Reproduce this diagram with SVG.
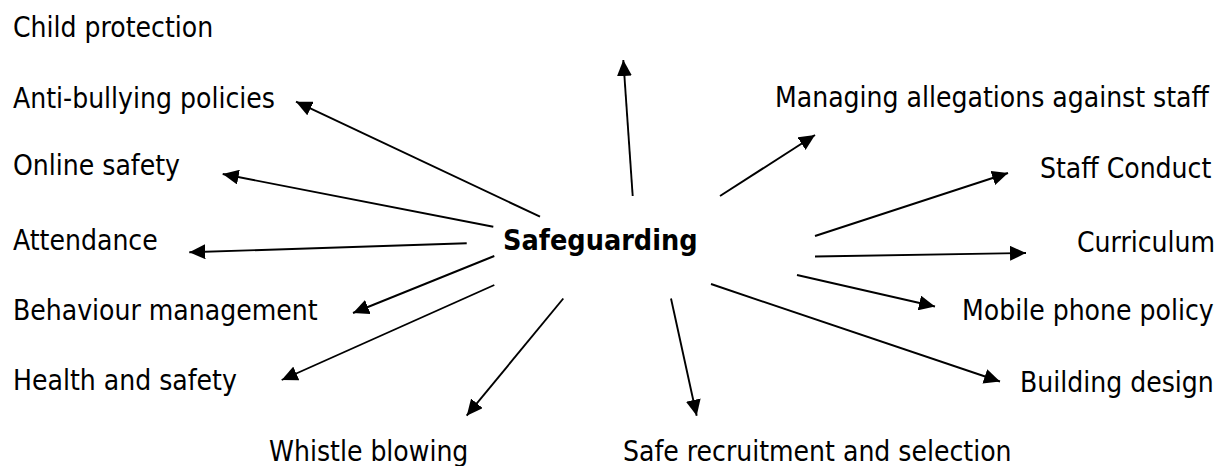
<svg xmlns="http://www.w3.org/2000/svg" width="1220" height="466" viewBox="0 0 1220 466">
<style>
text{font-family:"DejaVu Sans Condensed","DejaVu Sans",sans-serif;font-stretch:condensed;font-size:28px;fill:#000}
.hub{font-weight:bold;font-size:28.5px}
.c line{stroke:#000;stroke-width:1.9;fill:none;marker-end:url(#ah)}
</style>
<defs>
<marker id="ah" markerUnits="userSpaceOnUse" markerWidth="16" markerHeight="15" refX="16" refY="7.5" orient="auto">
<path d="M0,0 L16,7.5 L0,15 z" fill="#000"/>
</marker>
</defs>
<rect width="1220" height="466" fill="#fff"/>
<g id="hub"><text class="hub" x="503" y="250">Safeguarding</text></g>
<g id="n-child"><text x="13" y="37">Child protection</text></g>
<g id="n-anti"><text x="13" y="108">Anti-bullying policies</text></g>
<g id="n-online"><text x="13" y="175">Online safety</text></g>
<g id="n-attend"><text x="13" y="250">Attendance</text></g>
<g id="n-behav"><text x="13" y="320">Behaviour management</text></g>
<g id="n-health"><text x="13" y="390">Health and safety</text></g>
<g id="n-whistle"><text x="269" y="461">Whistle blowing</text></g>
<g id="n-safe"><text x="623" y="461">Safe recruitment and selection</text></g>
<g id="n-manage"><text x="775" y="107">Managing allegations against staff</text></g>
<g id="n-conduct"><text x="1040" y="178">Staff Conduct</text></g>
<g id="n-curric"><text x="1077" y="252">Curriculum</text></g>
<g id="n-mobile"><text x="962" y="320">Mobile phone policy</text></g>
<g id="n-building"><text x="1020" y="392">Building design</text></g>
<g id="connectors" class="c">
<line x1="632.7" y1="196" x2="623.3" y2="60"/>
<line x1="720" y1="196" x2="815" y2="135"/>
<line x1="815" y1="236" x2="1008" y2="173"/>
<line x1="815" y1="256.5" x2="1026" y2="253"/>
<line x1="797" y1="275" x2="935" y2="306.5"/>
<line x1="711" y1="284" x2="1000" y2="381.5"/>
<line x1="671" y1="298.5" x2="696.7" y2="415.7"/>
<line x1="563.3" y1="298.5" x2="466.7" y2="415.7"/>
<line x1="494.3" y1="285" x2="281.7" y2="380"/>
<line x1="494.3" y1="256" x2="353" y2="313"/>
<line x1="466.7" y1="243.3" x2="189.3" y2="252.3"/>
<line x1="493.3" y1="226.7" x2="222.7" y2="174"/>
<line x1="540" y1="216.7" x2="296" y2="101.7"/>
</g>
</svg>
